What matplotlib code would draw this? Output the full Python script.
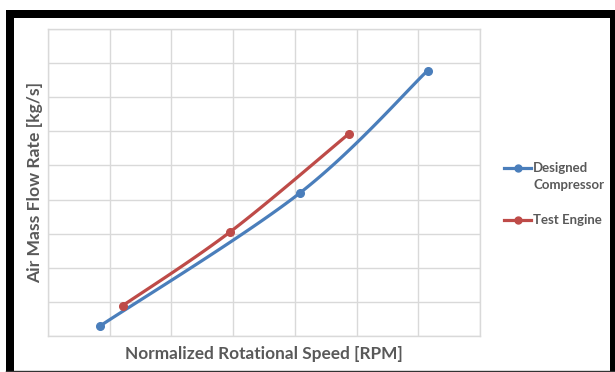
import numpy as np
import matplotlib
matplotlib.use("Agg")
import matplotlib.pyplot as plt
from matplotlib.lines import Line2D
from matplotlib.patches import Rectangle

# measured operating points
speed_designed = [0.384, 0.708, 0.915]
flow_designed = [0.29, 4.19, 7.78]
speed_test = [0.421, 0.595, 0.787]
flow_test = [0.89, 3.05, 5.92]

x_ticks = np.arange(0.3, 1.0001, 0.1)
y_ticks = np.arange(0, 9.0001, 1)

BLUE = '#4A7EBB'
RED = '#BE4B48'
GRID = '#D9D9D9'
TEXT = '#595959'

plt.rcParams['font.family'] = ['Lato', 'DejaVu Sans']


def smooth(x, y, n=60):
    # spreadsheet-style smoothed line: cubic bezier segments through each point
    x = np.asarray(x, float)
    y = np.asarray(y, float)
    p = np.column_stack([x, y])
    out = [p[:1]]
    for i in range(len(p) - 1):
        p0 = p[i - 1] if i > 0 else p[i]
        p3 = p[i + 2] if i + 2 < len(p) else p[i + 1]
        c1 = p[i] + (p[i + 1] - p0) / 6
        c2 = p[i + 1] - (p3 - p[i]) / 6
        t = np.linspace(0, 1, n)[1:, None]
        seg = ((1 - t) ** 3 * p[i] + 3 * (1 - t) ** 2 * t * c1
               + 3 * (1 - t) * t ** 2 * c2 + t ** 3 * p[i + 1])
        out.append(seg)
    curve = np.vstack(out)
    return curve[:, 0], curve[:, 1]


fig = plt.figure(figsize=(6.15, 3.72), dpi=100)
ax = fig.add_axes([48 / 615, 36 / 372, 432 / 615, 307 / 372])

for sx, fy, col in [(speed_designed, flow_designed, BLUE), (speed_test, flow_test, RED)]:
    cx, cy = smooth(sx, fy)
    ax.plot(cx, cy, color=col, lw=2.3, solid_capstyle='round')
    ax.plot(sx, fy, 'o', color=col, ms=5.5)

ax.set_xlim(x_ticks[0], x_ticks[-1])
ax.set_ylim(y_ticks[0], y_ticks[-1])
ax.set_xticks(x_ticks)
ax.set_yticks(y_ticks)
ax.tick_params(length=0, labelbottom=False, labelleft=False)
ax.grid(True, color=GRID, lw=1.0)
for sp in ax.spines.values():
    sp.set_color(GRID)
    sp.set_linewidth(1.0)

ax.set_xlabel('Normalized Rotational Speed [RPM]', fontsize=12.4, fontweight='bold',
              color=TEXT, labelpad=7)
ax.set_ylabel('Air Mass Flow Rate [kg/s]', fontsize=12.6, fontweight='bold',
              color=TEXT)
ax.yaxis.set_label_coords(-0.012, 0.5)

# legend drawn beside the plot, marker on the first line of each entry
entries = [(BLUE, 'Designed\nCompressor', 168), (RED, 'Test Engine', 220)]
for col, label, ypx in entries:
    yf = 1 - ypx / 372
    fig.add_artist(Line2D([504 / 615, 531 / 615], [yf, yf], transform=fig.transFigure,
                          color=col, lw=2.3))
    fig.add_artist(Line2D([517.5 / 615], [yf], transform=fig.transFigure,
                          color=col, marker='o', ms=5))
    fig.text(533 / 615, yf + 6 / 372, label, fontsize=9.5, fontweight='bold',
             color=TEXT, ha='left', va='top', linespacing=1.45)

# black frame around the chart
frame = [(6, 10, 608, 8), (6, 10, 8, 361), (610, 10, 5, 361)]
for x0, y0, w, h in frame:
    fig.add_artist(Rectangle((x0 / 615, 1 - (y0 + h) / 372), w / 615, h / 372,
                             transform=fig.transFigure, color='black', lw=0))
fig.add_artist(Line2D([6 / 615, 615 / 615], [1.5 / 372, 1.5 / 372],
                      transform=fig.transFigure, color='#333333', lw=1))

fig.savefig('out.png', dpi=100, facecolor='white')
